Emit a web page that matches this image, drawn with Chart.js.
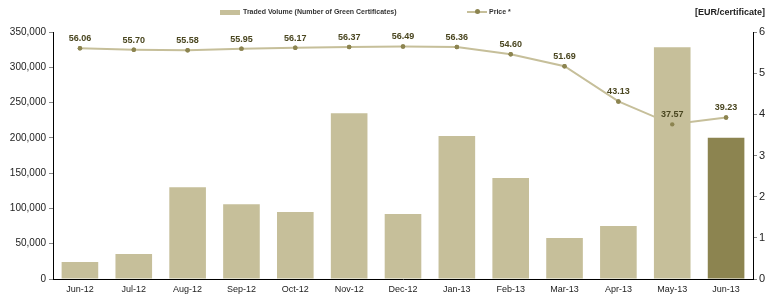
<!DOCTYPE html>
<html>
<head>
<meta charset="utf-8">
<script src="https://cdn.jsdelivr.net/npm/chart.js@4/dist/chart.umd.min.js"></script>
<style>
  html, body { margin: 0; padding: 0; background: #fff; }
  #wrap { position: relative; width: 768px; height: 294px; font-family: "Liberation Sans", Arial, sans-serif; }
  canvas { position: absolute; left: 0; top: 0; }
  .lg { position: absolute; top: 8px; font-size: 7px; font-weight: bold; color: #333; white-space: nowrap; }
  .box { display: inline-block; width: 20px; height: 5px; background: #c6bf9a; vertical-align: middle; margin-right: 3px; }
  .ln { display: inline-block; position: relative; width: 20px; height: 2px; background: #c6bf9a; vertical-align: middle; margin-right: 2px; }
  .ln i { position: absolute; left: 8px; top: -2px; width: 5px; height: 5px; border-radius: 50%; background: #8c8450; }
  #unit { position: absolute; right: 3px; top: 7px; font-size: 9px; font-weight: bold; color: #222; }
</style>
</head>
<body>
<div id="wrap">
  <canvas id="chart" width="768" height="294"></canvas>
  <div class="lg" style="left:220px"><span class="box"></span>Traded Volume (Number of Green Certificates)</div>
  <div class="lg" style="left:467px"><span class="ln"><i></i></span>Price *</div>
  <div id="unit">[EUR/certificate]</div>
</div>
<script>
const months = ['Jun-12', 'Jul-12', 'Aug-12', 'Sep-12', 'Oct-12', 'Nov-12', 'Dec-12', 'Jan-13', 'Feb-13', 'Mar-13', 'Apr-13', 'May-13', 'Jun-13'];
const volume = [24000, 35500, 130000, 106000, 95000, 235000, 92000, 202500, 143000, 58000, 75000, 328500, 200000];
const price = [56.06, 55.70, 55.58, 55.95, 56.17, 56.37, 56.49, 56.36, 54.60, 51.69, 43.13, 37.57, 39.23];

const barColors = months.map((m, i) => i === months.length - 1 ? '#8c8450' : '#c6bf9a');

// price values printed above each point; points redrawn over the bars
const priceLabels = {
  id: 'priceLabels',
  afterDatasetsDraw(chart) {
    const ctx = chart.ctx;
    const meta = chart.getDatasetMeta(1);
    meta.data.forEach(pt => pt.draw(ctx, chart.chartArea));
    ctx.save();
    ctx.font = 'bold 9px "Liberation Sans", Arial, sans-serif';
    ctx.fillStyle = '#4a4620';
    ctx.textAlign = 'center';
    ctx.textBaseline = 'bottom';
    meta.data.forEach((pt, i) => {
      ctx.fillText(price[i].toFixed(2), pt.x, pt.y - 5);
    });
    ctx.restore();
  }
};

new Chart(document.getElementById('chart'), {
  type: 'bar',
  data: {
    labels: months,
    datasets: [
      {
        type: 'bar',
        label: 'Traded Volume (Number of Green Certificates)',
        data: volume,
        backgroundColor: barColors,
        categoryPercentage: 1,
        barPercentage: 0.68,
        yAxisID: 'y',
        order: 1
      },
      {
        type: 'line',
        label: 'Price *',
        data: price,
        borderColor: '#c6bf9a',
        borderWidth: 2,
        pointBackgroundColor: '#8c8450',
        pointBorderColor: '#8c8450',
        pointBorderWidth: 0,
        pointRadius: 2.2,
        tension: 0,
        yAxisID: 'y1',
        order: 2
      }
    ]
  },
  options: {
    responsive: false,
    animation: false,
    layout: { padding: { top: 32, left: 0, right: 0, bottom: 0 } },
    plugins: {
      legend: { display: false },
      tooltip: { enabled: false }
    },
    scales: {
      x: {
        grid: { display: false, drawTicks: true, offset: true, tickLength: 4, color: '#888' },
        border: { color: '#000', width: 1 },
        ticks: { color: '#222', font: { size: 9, family: '"Liberation Sans", Arial, sans-serif' }, padding: 1, maxRotation: 0 },
        afterFit(scale) { scale.height = 15; }
      },
      y: {
        position: 'left',
        min: 0,
        max: 350000,
        grid: { drawOnChartArea: false, tickLength: 4, color: '#888' },
        border: { color: '#000', width: 1 },
        ticks: {
          stepSize: 50000,
          color: '#222',
          padding: 3,
          font: { size: 10, family: '"Liberation Sans", Arial, sans-serif' },
          callback: v => v.toLocaleString('en-US')
        },
        afterFit(scale) { scale.width = 53; }
      },
      y1: {
        position: 'right',
        min: 0,
        max: 60,
        grid: { drawOnChartArea: false, tickLength: 4, color: '#888' },
        border: { color: '#000', width: 1 },
        ticks: {
          stepSize: 10,
          color: '#222',
          padding: 2,
          font: { size: 11, family: '"Liberation Sans", Arial, sans-serif' },
          callback: v => v / 10
        },
        afterFit(scale) { scale.width = 15; }
      }
    }
  },
  plugins: [priceLabels]
});
</script>
</body>
</html>
